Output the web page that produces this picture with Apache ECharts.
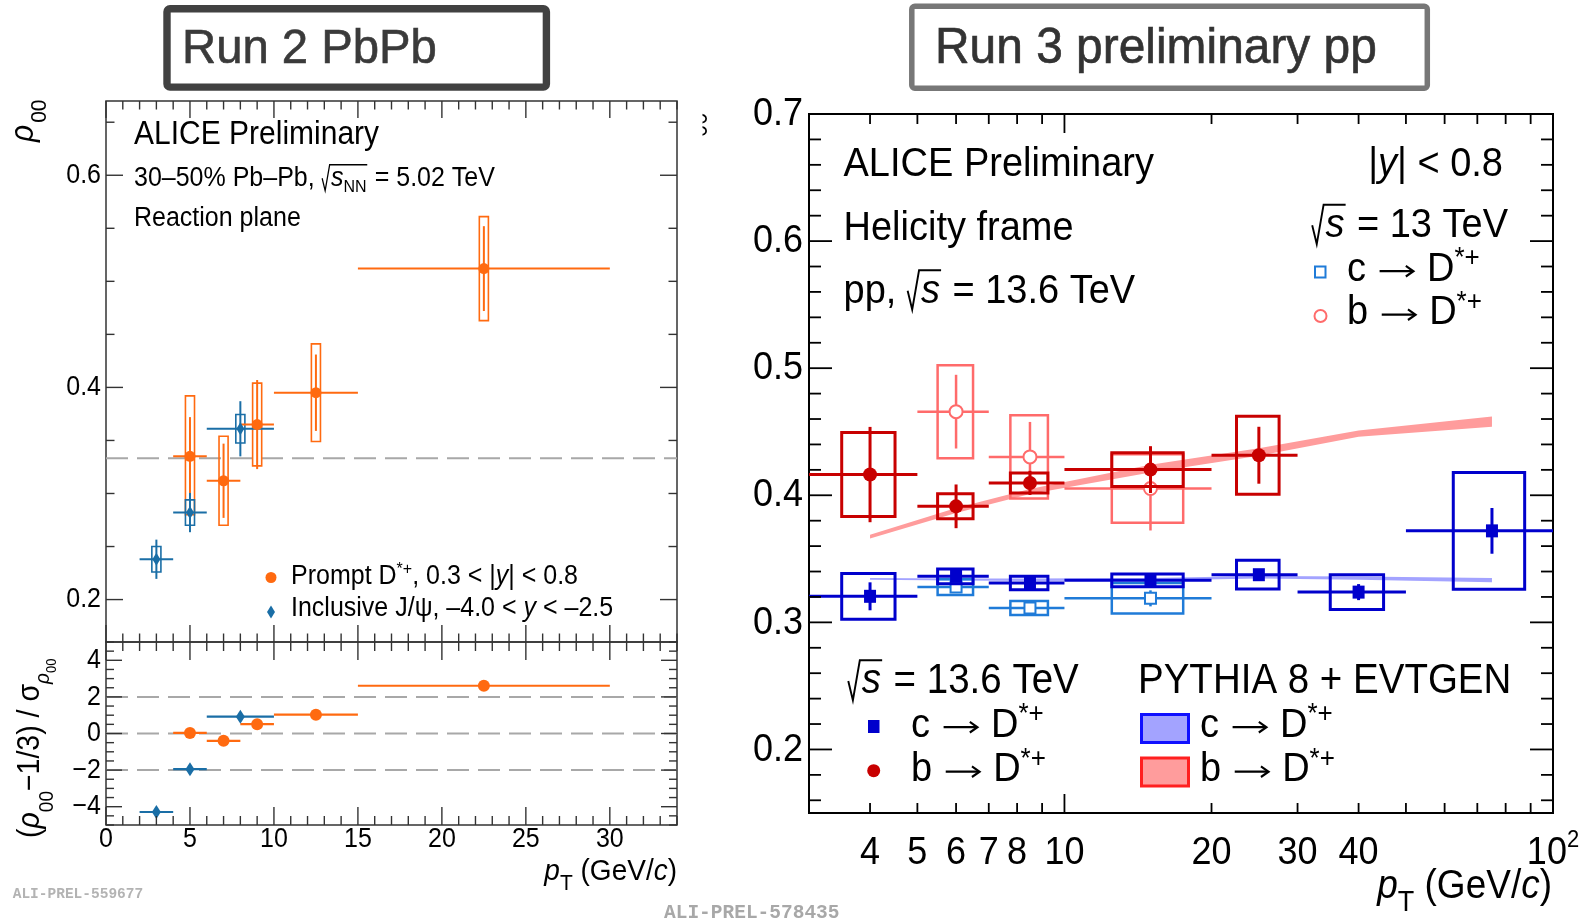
<!DOCTYPE html>
<html>
<head>
<meta charset="utf-8">
<title>D*+ spin alignment — ALICE Run 2 / Run 3</title>
<script src="https://cdn.jsdelivr.net/npm/echarts@6/dist/echarts.min.js"></script>
<style>
  html, body { margin: 0; padding: 0; background: #fff; }
  #chart { width: 1582px; height: 920px; }
</style>
</head>
<body>
<div id="chart"></div>
<script>
// ---------------- Run 2 Pb–Pb, 30–50 %, reaction plane ----------------
// prompt D*+ , 0.3 < |y| < 0.8
const dstarPt    = [5, 7, 9, 12.5, 22.5];
const dstarPtLo  = [4, 6, 8, 10, 15];
const dstarPtHi  = [6, 8, 10, 15, 30];
const dstarRho   = [0.335, 0.312, 0.365, 0.395, 0.512];
const dstarStat  = [0.037, 0.035, 0.042, 0.036, 0.040];
const dstarSysLo = [0.055, 0.042, 0.039, 0.046, 0.049];
const dstarSysHi = [0.057, 0.042, 0.039, 0.046, 0.049];
const dstarSig   = [0.03, -0.40, 0.51, 1.03, 2.61];

// inclusive J/psi, -4.0 < y < -2.5
const jpsiPt   = [3, 5, 8];
const jpsiPtLo = [2, 4, 6];
const jpsiPtHi = [4, 6, 10];
const jpsiRho  = [0.238, 0.282, 0.361];
const jpsiStat = [0.0185, 0.0185, 0.026];
const jpsiSys  = [0.012, 0.012, 0.0134];
const jpsiSig  = [-4.29, -1.95, 0.92];

const rhoUnpolarised = 1 / 3;
const sigmaRefs = [-2, 0, 2];

// ---------------- Run 3 pp, sqrt(s) = 13.6 TeV, helicity frame ----------------
const ppBinLo = [3, 5, 7, 10, 20, 30, 50];
const ppBinHi = [5, 7, 10, 20, 30, 50, 100];
const ppPt    = [4, 6, 8.5, 15, 25, 40, 75];

// c -> D*+ (prompt)
const cRho  = [0.3205, 0.3362, 0.3310, 0.3331, 0.3375, 0.3238, 0.3720];
const cStat = [0.0110, 0.0040, 0.0040, 0.0040, 0.0040, 0.0063, 0.0180];
const cSys  = [0.0180, 0.0058, 0.0053, 0.0050, 0.0113, 0.0136, 0.0460];

// b -> D*+ (non-prompt), first five bins
const bRho  = [0.4163, 0.3913, 0.4097, 0.4202, 0.4315];
const bStat = [0.0375, 0.0172, 0.0095, 0.0184, 0.0224];
const bSys  = [0.0330, 0.0098, 0.0079, 0.0133, 0.0307];

// sqrt(s) = 13 TeV reference points
const pp13Pt    = [6, 8.5, 15];
const pp13BinLo = [5, 7, 10];
const pp13BinHi = [7, 10, 20];
const c13Rho  = [0.3278, 0.3113, 0.3189];
const c13Stat = [0.0030, 0.0030, 0.0063];
const c13Sys  = [0.0062, 0.0055, 0.0120];
const b13Rho  = [0.4658, 0.4302, 0.4053];
const b13Stat = [0.0290, 0.0275, 0.0330];
const b13Sys  = [0.0366, 0.0328, 0.0270];

// PYTHIA 8 + EVTGEN bands
const pyPt  = [4, 6, 8.5, 15, 25, 40, 75];
const pyCLo = [0.3335, 0.3330, 0.3325, 0.3330, 0.3345, 0.3335, 0.3315];
const pyCHi = [0.3350, 0.3345, 0.3345, 0.3350, 0.3365, 0.3360, 0.3350];
const pyBLo = [0.3660, 0.3860, 0.4010, 0.4180, 0.4310, 0.4460, 0.4540];
const pyBHi = [0.3690, 0.3900, 0.4050, 0.4240, 0.4370, 0.4510, 0.4620];

// axis tick labels
const pbRhoTicks = [0.2, 0.4, 0.6];
const pbSigTicks = [-4, -2, 0, 2, 4];
const pbPtTicks  = [0, 5, 10, 15, 20, 25, 30];
const ppRhoTicks = [0.2, 0.3, 0.4, 0.5, 0.6, 0.7];
const ppPtTicks  = [4, 5, 6, 7, 8, 10, 20, 30, 40, 100];

// ---------------- styling ----------------
const C = {
  orange: '#ff6a10', jpsi: '#1a6ea6', dash: '#a8a8a8',
  c: '#0000cc', b: '#c80000', c13: '#1f7bd8', b13: '#ff6b6b',
  bandC: '#a3a3ff', bandB: '#ff9c9c'
};
const FONT = '"Liberation Sans", Arial, Helvetica, sans-serif';
const MONO = '"Liberation Mono", "DejaVu Sans Mono", monospace';
const PB_BOX_HALF = 0.27;   // GeV/c, half width of the Pb–Pb systematic boxes
const TEXT_SY = 1.08;       // plot lettering is slightly taller than wide

// ---------------- text layout helpers ----------------
const mctx = document.createElement('canvas').getContext('2d');
function fontOf(s, it, fam) { return (it ? 'italic ' : '') + s + 'px ' + (fam || FONT); }
function widthOf(t, s, it, fam) { mctx.font = fontOf(s, it, fam); return mctx.measureText(t).width; }
function T(t, s, o) { return Object.assign({ t: t, s: s }, o || {}); }
function ARROW(s) { return { arrow: true, s: s }; }

// lays a run of pieces along a baseline that starts at local (0, 0)
function layoutRun(pieces, color) {
  const els = [];
  let x = 0;
  pieces.forEach(function (p) {
    if (p.gap !== undefined) { x += p.gap; return; }
    if (p.arrow) {
      const s = p.s, w = 1.05 * s, y = -0.3 * s, lw = Math.max(1.2, 0.055 * s);
      const xa = x + 0.08 * s, xb = x + 0.97 * s;
      els.push({ type: 'line', shape: { x1: xa, y1: y, x2: xb - 0.03 * s, y2: y }, style: { stroke: color, lineWidth: lw } });
      els.push({ type: 'polyline', shape: { points: [[xb - 0.2 * s, y - 0.13 * s], [xb, y], [xb - 0.2 * s, y + 0.13 * s]] },
        style: { stroke: color, fill: null, lineWidth: lw } });
      x += w;
      return;
    }
    if (p.root) {
      const s = p.s, inner = layoutRun(p.root, color);
      const top = -0.86 * s, lw = Math.max(1.2, 0.05 * s);
      const x1 = x + 0.02 * s, xr = x + 0.32 * s;
      const end = xr + 0.05 * s + inner.width + 0.03 * s;
      els.push({ type: 'polyline',
        shape: { points: [[x1, -0.36 * s], [x1 + 0.12 * s, 0.1 * s], [xr, top], [end, top]] },
        style: { stroke: color, fill: null, lineWidth: lw } });
      els.push({ type: 'group', x: xr + 0.05 * s, y: 0, children: inner.els });
      x = end + 0.02 * s;
      return;
    }
    const it = !!p.it, dx = p.dx || 0;
    const st = { text: p.t, font: fontOf(p.s, it, p.f), fill: p.color || color,
                 align: 'left', textAlign: 'left', verticalAlign: 'middle', textVerticalAlign: 'middle' };
    if (p.bold) { st.stroke = p.color || color; st.lineWidth = p.bold; }
    els.push({ type: 'text', x: x + dx, y: (p.dy || 0) - 0.345 * p.s, style: st });
    x += dx + widthOf(p.t, p.s, it, p.f);
  });
  return { els: els, width: x };
}
function textAt(pieces, x, base, align, opt) {
  opt = opt || {};
  const r = layoutRun(pieces, opt.color || '#000');
  const sx = opt.sx || 1, sy = opt.sy || TEXT_SY;
  const off = (align === 'center' ? -r.width / 2 : align === 'right' ? -r.width : 0) * sx;
  return { type: 'group', x: x, y: base, rotation: opt.rotate || 0,
    children: [{ type: 'group', x: off, y: 0, scaleX: sx, scaleY: sy, children: r.els }] };
}
// font size that makes a string span a given width
function fitSize(t, width, fam) { return width / widthOf(t, 100, false, fam) * 100; }

// ---------------- series builders ----------------
function errSeries(xi, yi, rows, color, lw, z) {
  return { type: 'custom', xAxisIndex: xi, yAxisIndex: yi, z: z, silent: true,
    data: rows, encode: { x: 0, y: 1 },
    renderItem: function (params, api) {
      const v = [0, 1, 2, 3, 4, 5].map(function (k) { return api.value(k); });
      const ch = [];
      const a = api.coord([v[2], v[1]]), b = api.coord([v[3], v[1]]);
      ch.push({ type: 'line', shape: { x1: a[0], y1: a[1], x2: b[0], y2: b[1] }, style: { stroke: color, lineWidth: lw } });
      if (v[4] !== v[5]) {
        const c = api.coord([v[0], v[4]]), d = api.coord([v[0], v[5]]);
        ch.push({ type: 'line', shape: { x1: c[0], y1: c[1], x2: d[0], y2: d[1] }, style: { stroke: color, lineWidth: lw } });
      }
      return { type: 'group', children: ch };
    } };
}
function boxSeries(xi, yi, rows, color, lw, z) {
  return { type: 'custom', xAxisIndex: xi, yAxisIndex: yi, z: z, silent: true,
    data: rows, encode: { x: 0, y: 1 },
    renderItem: function (params, api) {
      const p = api.coord([api.value(2), api.value(5)]), q = api.coord([api.value(3), api.value(4)]);
      return { type: 'rect', shape: { x: p[0], y: p[1], width: q[0] - p[0], height: q[1] - p[1] },
        style: { stroke: color, fill: null, lineWidth: lw } };
    } };
}
function bandSeries(xi, yi, xs, lo, hi, color, z) {
  return { type: 'custom', xAxisIndex: xi, yAxisIndex: yi, z: z, silent: true,
    data: xs.map(function (x, i) { return [x, lo[i], hi[i]]; }), encode: { x: 0, y: 1 },
    renderItem: function (params, api) {
      if (params.dataIndex !== 0) return null;
      const up = xs.map(function (x, i) { return api.coord([x, hi[i]]); });
      const dn = xs.map(function (x, i) { return api.coord([x, lo[i]]); }).reverse();
      return { type: 'polygon', shape: { points: up.concat(dn) }, style: { fill: color, stroke: null } };
    } };
}
function markSeries(xi, yi, xs, ys, symbol, size, fill, stroke, bw, z) {
  return { type: 'scatter', xAxisIndex: xi, yAxisIndex: yi, z: z, silent: true,
    data: xs.map(function (x, i) { return [x, ys[i]]; }),
    symbol: symbol, symbolSize: size,
    itemStyle: { color: fill, borderColor: stroke || fill, borderWidth: bw || 0, opacity: 1 } };
}
function refLine(xi, yi, x0, x1, y) {
  return { type: 'line', xAxisIndex: xi, yAxisIndex: yi, z: 1, silent: true, symbol: 'none',
    data: [[x0, y], [x1, y]], lineStyle: { color: C.dash, width: 2, type: [22, 9] } };
}
// ticks on all four sides of a frame plus the tick labels
function frameSeries(xi, yi, sp) {
  return { type: 'custom', xAxisIndex: xi, yAxisIndex: yi, z: 10, silent: true, clip: false,
    data: [sp.anchor], encode: { x: 0, y: 1 },
    renderItem: function (params, api) {
      const ch = [];
      const x0 = sp.xr[0], x1 = sp.xr[1], y0 = sp.yr[0], y1 = sp.yr[1];
      function L(a, b) { ch.push({ type: 'line', shape: { x1: a[0], y1: a[1], x2: b[0], y2: b[1] }, style: { stroke: sp.color, lineWidth: sp.lw } }); }
      sp.xt.forEach(function (t) {
        const len = t[1] ? sp.xMaj : sp.xMin;
        const b = api.coord([t[0], y0]), u = api.coord([t[0], y1]);
        L(b, [b[0], b[1] - len]); L(u, [u[0], u[1] + len]);
      });
      sp.yt.forEach(function (t) {
        const len = t[1] ? sp.yMaj : sp.yMin;
        const l = api.coord([x0, t[0]]), r = api.coord([x1, t[0]]);
        L(l, [l[0] + len, l[1]]); L(r, [r[0] - len, r[1]]);
      });
      sp.xl.forEach(function (lab) {
        const p = api.coord([lab.v, y0]);
        ch.push(textAt(lab.pieces, p[0], p[1] + sp.xlDy, 'center'));
      });
      sp.yl.forEach(function (lab) {
        const p = api.coord([x0, lab.v]);
        ch.push(textAt(lab.pieces, p[0] - sp.ylDx, p[1] + 0.358 * sp.ls * TEXT_SY, 'right'));
      });
      return { type: 'group', children: ch };
    } };
}

// ---------------- rows ----------------
const dstarErrRows = dstarPt.map(function (x, i) { return [x, dstarRho[i], dstarPtLo[i], dstarPtHi[i], dstarRho[i] - dstarStat[i], dstarRho[i] + dstarStat[i]]; });
const dstarSysRows = dstarPt.map(function (x, i) { return [x, dstarRho[i], x - PB_BOX_HALF, x + PB_BOX_HALF, dstarRho[i] - dstarSysLo[i], dstarRho[i] + dstarSysHi[i]]; });
const jpsiErrRows  = jpsiPt.map(function (x, i) { return [x, jpsiRho[i], jpsiPtLo[i], jpsiPtHi[i], jpsiRho[i] - jpsiStat[i], jpsiRho[i] + jpsiStat[i]]; });
const jpsiSysRows  = jpsiPt.map(function (x, i) { return [x, jpsiRho[i], x - PB_BOX_HALF, x + PB_BOX_HALF, jpsiRho[i] - jpsiSys[i], jpsiRho[i] + jpsiSys[i]]; });
const dstarSigRows = dstarPt.map(function (x, i) { return [x, dstarSig[i], dstarPtLo[i], dstarPtHi[i], dstarSig[i], dstarSig[i]]; });
const jpsiSigRows  = jpsiPt.map(function (x, i) { return [x, jpsiSig[i], jpsiPtLo[i], jpsiPtHi[i], jpsiSig[i], jpsiSig[i]]; });

function ppErr(xs, lo, hi, ys, e) { return xs.map(function (x, i) { return [x, ys[i], lo[i], hi[i], ys[i] - e[i], ys[i] + e[i]]; }); }
function ppSys(xs, lo, hi, ys, e) { return xs.map(function (x, i) { const h = (hi[i] - lo[i]) / 4; return [x, ys[i], x - h, x + h, ys[i] - e[i], ys[i] + e[i]]; }); }
const nB = bRho.length;

// ---------------- ticks ----------------
function range(a, b, st) { const r = []; for (let k = 0; a + k * st <= b + 1e-9; k++) r.push(+(a + k * st).toFixed(6)); return r; }
const pbXT  = range(0, 34, 1).map(function (v) { return [v, v % 5 === 0]; });
const pbYT  = range(0.2, 0.65, 0.05).map(function (v, k) { return [v, k % 4 === 0]; });
const sigYT = range(-5, 5, 0.5).map(function (v) { return [v, Number.isInteger(v) && v % 2 === 0]; });
const ppXT  = [3, 4, 5, 6, 7, 8, 9, 10, 20, 30, 40, 50, 60, 70, 80, 90, 100].map(function (v) { return [v, v === 10 || v === 100]; });
const ppYT  = range(0.16, 0.70, 0.02).map(function (v) { return [v, Math.abs(v * 10 - Math.round(v * 10)) < 1e-6]; });

const LS = 25, RS = 36, RT = 38;
const pbXL  = pbPtTicks.map(function (v) { return { v: v, pieces: [T(String(v), LS)] }; });
const pbYL  = pbRhoTicks.map(function (v) { return { v: v, pieces: [T(v.toFixed(1), LS)] }; });
const sigYL = pbSigTicks.map(function (v) { return { v: v, pieces: [T(v < 0 ? '\u2212' + (-v) : String(v), LS)] }; });
const ppXL  = ppPtTicks.map(function (v) {
  return { v: v, pieces: v === 100 ? [T('10', RS), T('2', 22, { dy: -17 })] : [T(String(v), RS)] };
});
const ppYL  = ppRhoTicks.map(function (v) { return { v: v, pieces: [T(v.toFixed(1), RS)] }; });

// ---------------- series ----------------
const series = [
  // Pb–Pb, rho00
  refLine(0, 0, 0, 34, rhoUnpolarised),
  boxSeries(0, 0, dstarSysRows, C.orange, 1.6, 4),
  errSeries(0, 0, dstarErrRows, C.orange, 2, 5),
  markSeries(0, 0, dstarPt, dstarRho, 'circle', 11, C.orange, null, 0, 6),
  boxSeries(0, 0, jpsiSysRows, C.jpsi, 1.6, 4),
  errSeries(0, 0, jpsiErrRows, C.jpsi, 2, 5),
  markSeries(0, 0, jpsiPt, jpsiRho, 'diamond', [8, 13], C.jpsi, null, 0, 6),
  // Pb–Pb, significance
  ...sigmaRefs.map(function (s) { return refLine(1, 1, 0, 34, s); }),
  errSeries(1, 1, dstarSigRows, C.orange, 2.2, 5),
  markSeries(1, 1, dstarPt, dstarSig, 'circle', 12, C.orange, null, 0, 6),
  errSeries(1, 1, jpsiSigRows, C.jpsi, 2.2, 5),
  markSeries(1, 1, jpsiPt, jpsiSig, 'diamond', [9, 14], C.jpsi, null, 0, 6),
  // pp, PYTHIA bands
  bandSeries(2, 2, pyPt, pyCLo, pyCHi, C.bandC, 1),
  bandSeries(2, 2, pyPt, pyBLo, pyBHi, C.bandB, 1),
  // pp, 13 TeV
  boxSeries(2, 2, ppSys(pp13Pt, pp13BinLo, pp13BinHi, c13Rho, c13Sys), C.c13, 2.5, 3),
  errSeries(2, 2, ppErr(pp13Pt, pp13BinLo, pp13BinHi, c13Rho, c13Stat), C.c13, 2.5, 3),
  markSeries(2, 2, pp13Pt, c13Rho, 'rect', 11, '#fff', C.c13, 2, 4),
  boxSeries(2, 2, ppSys(pp13Pt, pp13BinLo, pp13BinHi, b13Rho, b13Sys), C.b13, 2.5, 3),
  errSeries(2, 2, ppErr(pp13Pt, pp13BinLo, pp13BinHi, b13Rho, b13Stat), C.b13, 2.5, 3),
  markSeries(2, 2, pp13Pt, b13Rho, 'circle', 13, '#fff', C.b13, 2, 4),
  // pp, 13.6 TeV
  boxSeries(2, 2, ppSys(ppPt, ppBinLo, ppBinHi, cRho, cSys), C.c, 3, 5),
  errSeries(2, 2, ppErr(ppPt, ppBinLo, ppBinHi, cRho, cStat), C.c, 3, 5),
  markSeries(2, 2, ppPt, cRho, 'rect', [12, 13], C.c, null, 0, 6),
  boxSeries(2, 2, ppSys(ppPt.slice(0, nB), ppBinLo.slice(0, nB), ppBinHi.slice(0, nB), bRho, bSys), C.b, 3, 5),
  errSeries(2, 2, ppErr(ppPt.slice(0, nB), ppBinLo.slice(0, nB), ppBinHi.slice(0, nB), bRho, bStat), C.b, 3, 5),
  markSeries(2, 2, ppPt.slice(0, nB), bRho, 'circle', 14, C.b, null, 0, 6),
  // frames
  frameSeries(0, 0, { anchor: [10, 0.3], xr: [0, 34], yr: [0.16, 0.67], xt: pbXT, yt: pbYT,
    xMaj: 17, xMin: 8.5, yMaj: 17, yMin: 8.5, color: '#333', lw: 1.4, xl: [], xlDy: 0, yl: pbYL, ylDx: 5, ls: LS }),
  frameSeries(1, 1, { anchor: [10, 0], xr: [0, 34], yr: [-5, 5], xt: pbXT, yt: sigYT,
    xMaj: 18, xMin: 9, yMaj: 16, yMin: 8, color: '#333', lw: 1.4, xl: pbXL, xlDy: 24, yl: sigYL, ylDx: 5, ls: LS }),
  frameSeries(2, 2, { anchor: [10, 0.4], xr: [3, 100], yr: [0.15, 0.7], xt: ppXT, yt: ppYT,
    xMaj: 19, xMin: 10, yMaj: 23, yMin: 12, color: '#000', lw: 1.8, xl: ppXL, xlDy: 54, yl: ppYL, ylDx: 6, ls: RS })
];

// ---------------- fixed annotations ----------------
function dstar(s, sup, dy) { return [T('D', s), T('*+', sup, { dy: dy })]; }
function decay(q) { return [T(q + ' ', RT), ARROW(RT), T(' ', RT)].concat(dstar(RT, 26, -14)); }
const title1 = 'Run 2 PbPb', title2 = 'Run 3 preliminary pp';
const graphics = [
  // panel titles
  { type: 'rect', shape: { x: 167, y: 8.7, width: 379.4, height: 78.4, r: 3 }, style: { stroke: '#414141', fill: null, lineWidth: 7.4 } },
  textAt([T(title1, fitSize(title1, 255), { bold: 0.6 })], 182, 66.5, 'left', { color: '#3a3a3a', sy: 1.03 }),
  { type: 'rect', shape: { x: 911.8, y: 6.2, width: 515.5, height: 82, r: 3 }, style: { stroke: '#777', fill: null, lineWidth: 5.5 } },
  textAt([T(title2, fitSize(title2, 442), { bold: 0.6 })], 935, 66.5, 'left', { color: '#333', sy: 1.03 }),

  // Pb–Pb panel
  textAt([T('ALICE Preliminary', 30)], 134, 146),
  textAt([T('30\u201350% Pb\u2013Pb, ', LS), { root: [T('s', LS, { it: 1 }), T('NN', 16, { dy: 5 })], s: LS }, T(' = 5.02 TeV', LS)], 134, 188),
  textAt([T('Reaction plane', LS)], 134, 228),
  { type: 'circle', shape: { cx: 271, cy: 577.5, r: 5.5 }, style: { fill: C.orange } },
  textAt([T('Prompt ', LS)].concat(dstar(LS, 16, -10), [T(', 0.3 < |', LS), T('y', LS, { it: 1 }), T('| < 0.8', LS)]), 291, 586),
  { type: 'polygon', shape: { points: [[271, 605.5], [275, 612], [271, 618.5], [267, 612]] }, style: { fill: C.jpsi } },
  textAt([T('Inclusive J/\u03c8, \u20134.0 < ', LS), T('y', LS, { it: 1 }), T(' < \u20132.5', LS)], 291, 618),
  textAt([T('\u03c1', 30, { it: 1 }), T('00', 21, { dx: 2, dy: 12 })], 35, 142, 'left', { rotate: Math.PI / 2 }),
  textAt([T('(', 28.5), T('\u03c1', 28.5, { it: 1 }), T('00', 19, { dy: 12 }), T('\u22121/3) / \u03c3', 28.5),
          T('\u03c1', 19, { it: 1, dy: 9 }), T('00', 13, { dy: 15 })], 41, 838, 'left', { rotate: Math.PI / 2 }),
  textAt([T('p', 28, { it: 1 }), T('T', 21, { dy: 9 }), T(' (GeV/', 28), T('c', 28, { it: 1 }), T(')', 28)], 677, 882, 'right'),
  { type: 'text', x: 12.7, y: 894, style: { text: 'ALI-PREL-559677', font: 'bold 14.5px ' + MONO, fill: '#b3b3b3', verticalAlign: 'middle', textVerticalAlign: 'middle' } },

  // pp panel: clipped axis title remnant
  textAt([T('00', 22)], 709, 137, 'left', { rotate: Math.PI / 2 }),
  { type: 'rect', shape: { x: 680, y: 100, width: 22.5, height: 45 }, style: { fill: '#fff', stroke: null } },

  textAt([T('ALICE Preliminary', RT)], 843.5, 178.5),
  textAt([T('Helicity frame', RT)], 843.5, 243),
  textAt([T('pp, ', RT), { root: [T('s', RT, { it: 1 })], s: RT }, T(' = 13.6 TeV', RT)], 843.5, 305.5),
  textAt([T('|', RT), T('y', RT, { it: 1 }), T('| < 0.8', RT)], 1503, 178.5, 'right'),
  textAt([{ root: [T('s', RT, { it: 1 })], s: RT }, T(' = 13 TeV', RT)], 1508, 240, 'right'),
  { type: 'rect', shape: { x: 1315, y: 266.5, width: 10.5, height: 11 }, style: { fill: '#fff', stroke: C.c13, lineWidth: 2 } },
  textAt(decay('c'), 1347, 283.5),
  { type: 'circle', shape: { cx: 1320.5, cy: 316, r: 6 }, style: { fill: '#fff', stroke: C.b13, lineWidth: 2 } },
  textAt(decay('b'), 1347, 327),

  textAt([{ root: [T('s', 38.5, { it: 1 })], s: 38.5 }, T(' = 13.6 TeV', 38.5)], 847.5, 696),
  { type: 'rect', shape: { x: 868, y: 720, width: 11.5, height: 13 }, style: { fill: C.c } },
  textAt(decay('c'), 911, 739.5),
  { type: 'circle', shape: { cx: 873.7, cy: 770.7, r: 6.5 }, style: { fill: C.b } },
  textAt(decay('b'), 911, 784),

  textAt([T('PYTHIA 8 + EVTGEN', 38.5)], 1138, 696),
  { type: 'rect', shape: { x: 1141.5, y: 714.5, width: 47, height: 28 }, style: { fill: C.bandC, stroke: '#1010ff', lineWidth: 3 } },
  textAt(decay('c'), 1200, 739.5),
  { type: 'rect', shape: { x: 1141.5, y: 758, width: 47, height: 28 }, style: { fill: C.bandB, stroke: '#ff2020', lineWidth: 3 } },
  textAt(decay('b'), 1200, 784),

  textAt([T('p', 37, { it: 1 }), T('T', 27, { dy: 11 }), T(' (GeV/', 37), T('c', 37, { it: 1 }), T(')', 37)], 1552, 901, 'right'),
  { type: 'text', x: 664, y: 912.7, style: { text: 'ALI-PREL-578435', font: 'bold 19.5px ' + MONO, fill: '#a8a8a8', verticalAlign: 'middle', textVerticalAlign: 'middle' } }
];

// ---------------- chart ----------------
const gridBase = { show: true, backgroundColor: 'transparent', containLabel: false, outerBoundsMode: 'none' };
const chart = echarts.init(document.getElementById('chart'), null, { renderer: 'canvas' });
chart.setOption({
  animation: false,
  backgroundColor: '#fff',
  grid: [
    Object.assign({ left: 106, top: 101, width: 571, height: 541, borderColor: '#333', borderWidth: 1.5 }, gridBase),
    Object.assign({ left: 106, top: 642, width: 571, height: 183, borderColor: '#333', borderWidth: 1.5 }, gridBase),
    Object.assign({ left: 809, top: 114, width: 744, height: 699, borderColor: '#000', borderWidth: 2 }, gridBase)
  ],
  xAxis: [
    { gridIndex: 0, type: 'value', min: 0, max: 34, show: false },
    { gridIndex: 1, type: 'value', min: 0, max: 34, show: false },
    { gridIndex: 2, type: 'log', logBase: 10, min: 3, max: 100, show: false }
  ],
  yAxis: [
    { gridIndex: 0, type: 'value', min: 0.16, max: 0.67, show: false },
    { gridIndex: 1, type: 'value', min: -5, max: 5, show: false },
    { gridIndex: 2, type: 'value', min: 0.15, max: 0.7, show: false }
  ],
  series: series,
  graphic: { elements: graphics }
});
</script>
</body>
</html>
